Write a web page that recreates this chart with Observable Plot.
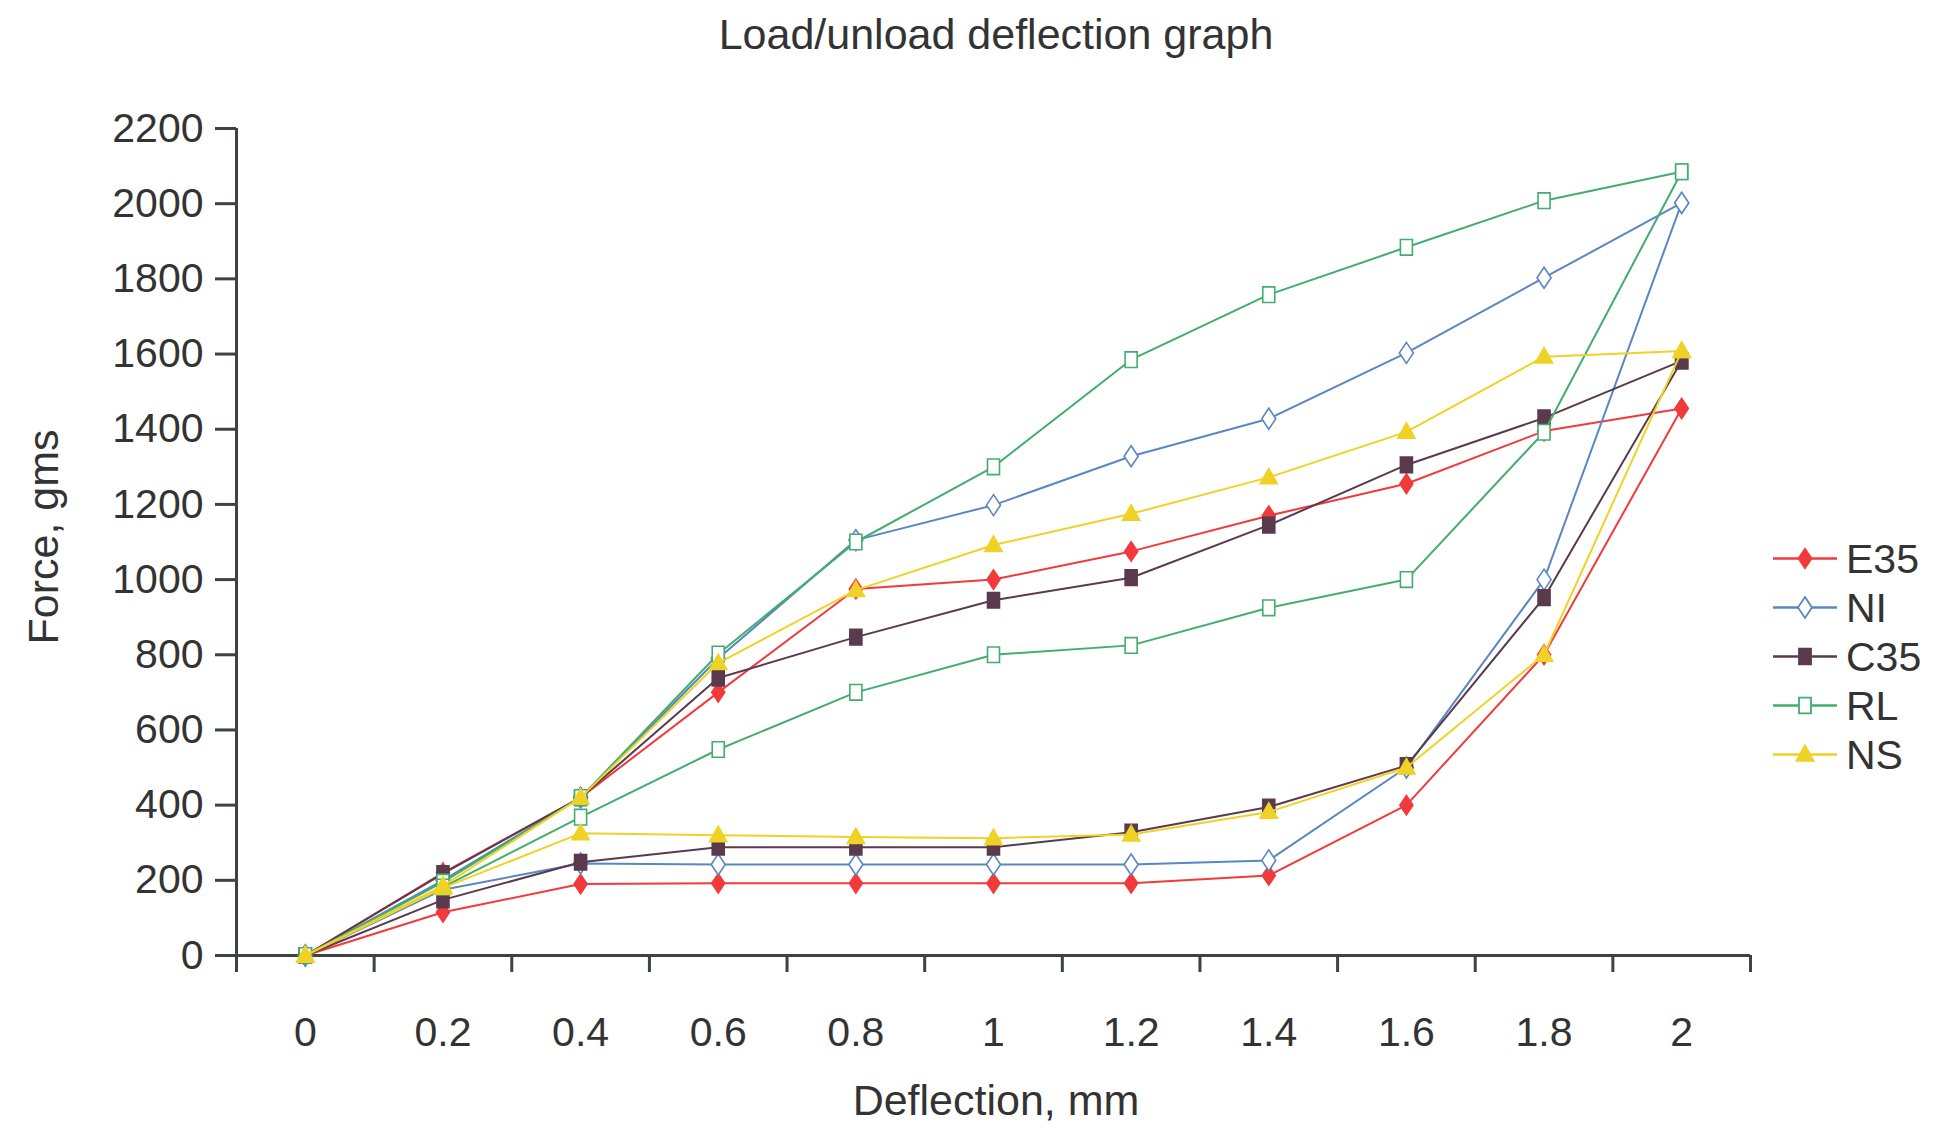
<!DOCTYPE html>
<html><head><meta charset="utf-8">
<script src="https://cdn.jsdelivr.net/npm/d3@7"></script>
<script src="https://cdn.jsdelivr.net/npm/@observablehq/plot@0.6"></script>
<style>
html,body{margin:0;padding:0;background:#fff;}
#wrap{position:relative;width:1938px;height:1129px;overflow:hidden;font-family:"Liberation Sans",Arial,Helvetica,sans-serif;color:#333;}
.t{position:absolute;white-space:nowrap;font-size:43px;line-height:36px;}
#legend{position:absolute;left:1770px;top:534px;font-size:41px;}
#legend .row{display:flex;align-items:center;height:49px;}
#legend span{margin-left:6px;line-height:40px;}
</style></head><body><div id="wrap"></div>
<script>
// ---- data ----
const deflection = [0, 0.2, 0.4, 0.6, 0.8, 1, 1.2, 1.4, 1.6, 1.8, 2];
const forceTicks = [0, 200, 400, 600, 800, 1000, 1200, 1400, 1600, 1800, 2000, 2200];
const seriesNames = ["E35", "NI", "C35", "RL", "NS"];
const seriesColors = ["#f23a3a", "#5b87c0", "#5a3a4c", "#43ad6e", "#f0d227"];

const e35Load   = [0, 220, 420, 700, 975, 1000, 1075, 1170, 1255, 1395, 1455];
const e35Unload = [0, 115, 190, 192, 192, 192, 192, 213, 400, 800, 1455];
const niLoad    = [0, 200, 420, 790, 1105, 1198, 1328, 1428, 1603, 1803, 2002];
const niUnload  = [0, 175, 245, 242, 242, 242, 242, 253, 500, 1000, 2002];
const c35Load   = [0, 218, 420, 738, 847, 945, 1005, 1145, 1305, 1430, 1582];
const c35Unload = [0, 148, 248, 288, 288, 288, 328, 395, 505, 952, 1582];
const rlLoad    = [0, 195, 420, 802, 1100, 1300, 1585, 1758, 1884, 2008, 2085];
const rlUnload  = [0, 182, 368, 548, 700, 800, 825, 925, 1000, 1392, 2085];
const nsLoad    = [0, 185, 420, 778, 972, 1092, 1175, 1272, 1393, 1593, 1608];
const nsUnload  = [0, 180, 325, 320, 315, 312, 322, 382, 500, 800, 1608];

const loads = [e35Load, niLoad, c35Load, rlLoad, nsLoad];
const unloads = [e35Unload, niUnload, c35Unload, rlUnload, nsUnload];

// category boundaries (Excel-style ticks between categories)
const half = 0.1;
const boundaries = deflection.map(d => d - half).concat([deflection[deflection.length - 1] + half]);

// ---- marker shapes (slightly tall, like the reference) ----
const rad = size => Math.sqrt(size / Math.PI);
const tallDiamond = {draw(c, size) { const s = rad(size); c.moveTo(0, -1.5 * s); c.lineTo(s, 0); c.lineTo(0, 1.5 * s); c.lineTo(-s, 0); c.closePath(); }};
const tallSquare = {draw(c, size) { const s = rad(size); c.moveTo(-s, -1.3 * s); c.lineTo(s, -1.3 * s); c.lineTo(s, 1.3 * s); c.lineTo(-s, 1.3 * s); c.closePath(); }};
const triangle = {draw(c, size) { const s = rad(size); c.moveTo(0, -1.2 * s); c.lineTo(1.15 * s, 0.85 * s); c.lineTo(-1.15 * s, 0.85 * s); c.closePath(); }};

const styles = [
  {symbol: tallDiamond, r: 6.5, hollow: false},
  {symbol: tallDiamond, r: 7, hollow: true},
  {symbol: tallSquare, r: 6, hollow: false},
  {symbol: tallSquare, r: 6, hollow: true},
  {symbol: triangle, r: 7.5, hollow: false}
];

// table: load path 0 -> 2, then unload path 2 -> 0
const rows = [];
seriesNames.forEach((name, i) => {
  deflection.forEach((d, j) => rows.push({series: name, x: d, y: loads[i][j]}));
  for (let j = deflection.length - 1; j >= 0; j--) rows.push({series: name, x: deflection[j], y: unloads[i][j]});
});

const seriesMarks = [];
seriesNames.forEach((name, i) => {
  const data = rows.filter(r => r.series === name);
  const col = seriesColors[i];
  const st = styles[i];
  seriesMarks.push(Plot.line(data, {x: "x", y: "y", stroke: col, strokeWidth: 2}));
  seriesMarks.push(Plot.dot(data, {x: "x", y: "y", symbol: st.symbol, r: st.r,
    fill: st.hollow ? "#fff" : col, stroke: col, strokeWidth: 1.6}));
});

const axisCol = "#3d4242";
const plot = Plot.plot({
  width: 1938, height: 1129,
  marginLeft: 236, marginRight: 188, marginTop: 128, marginBottom: 174,
  style: {fontFamily: '"Liberation Sans", Arial, Helvetica, sans-serif', fontSize: "41px", color: "#333", background: "transparent"},
  x: {domain: [boundaries[0], boundaries[boundaries.length - 1]]},
  y: {domain: [0, 2200]},
  marks: [
    Plot.axisY(forceTicks, {tickSize: 21, tickPadding: 12, stroke: axisCol, strokeWidth: 3, tickFormat: d => String(d), label: null}),
    Plot.axisX(boundaries, {tickSize: 17, stroke: axisCol, strokeWidth: 3, tickFormat: () => "", label: null}),
    Plot.axisX(deflection, {tickSize: 0, tickPadding: 61, tickFormat: d3.format("~g"), label: null}),
    Plot.ruleY([0], {stroke: axisCol, strokeWidth: 3}),
    Plot.ruleX([boundaries[0]], {stroke: axisCol, strokeWidth: 3}),
    ...seriesMarks
  ]
});

const wrap = document.getElementById("wrap");
plot.style.position = "absolute";
plot.style.left = "0px";
plot.style.top = "0px";
wrap.appendChild(plot);

// titles
function addText(txt, cx, cy, rot) {
  const d = document.createElement("div");
  d.className = "t";
  d.textContent = txt;
  d.style.left = cx + "px";
  d.style.top = cy + "px";
  d.style.transform = "translate(-50%,-50%)" + (rot ? " rotate(-90deg)" : "");
  wrap.appendChild(d);
}
addText("Load/unload deflection graph", 996, 34, false);
addText("Deflection, mm", 996, 1100, false);
addText("Force, gms", 43, 537, true);

// legend
const legend = d3.select(wrap).append("div").attr("id", "legend");
seriesNames.forEach((name, i) => {
  const row = legend.append("div").attr("class", "row");
  const svg = row.append("svg").attr("width", 70).attr("height", 49);
  svg.append("line").attr("x1", 3).attr("x2", 67).attr("y1", 24.5).attr("y2", 24.5)
    .attr("stroke", seriesColors[i]).attr("stroke-width", 2.5);
  const st = styles[i];
  svg.append("path").attr("transform", "translate(35,24.5)")
    .attr("d", d3.symbol(st.symbol, Math.PI * st.r * st.r)())
    .attr("fill", st.hollow ? "#fff" : seriesColors[i])
    .attr("stroke", seriesColors[i]).attr("stroke-width", 1.8);
  row.append("span").text(name);
});
</script></body></html>
